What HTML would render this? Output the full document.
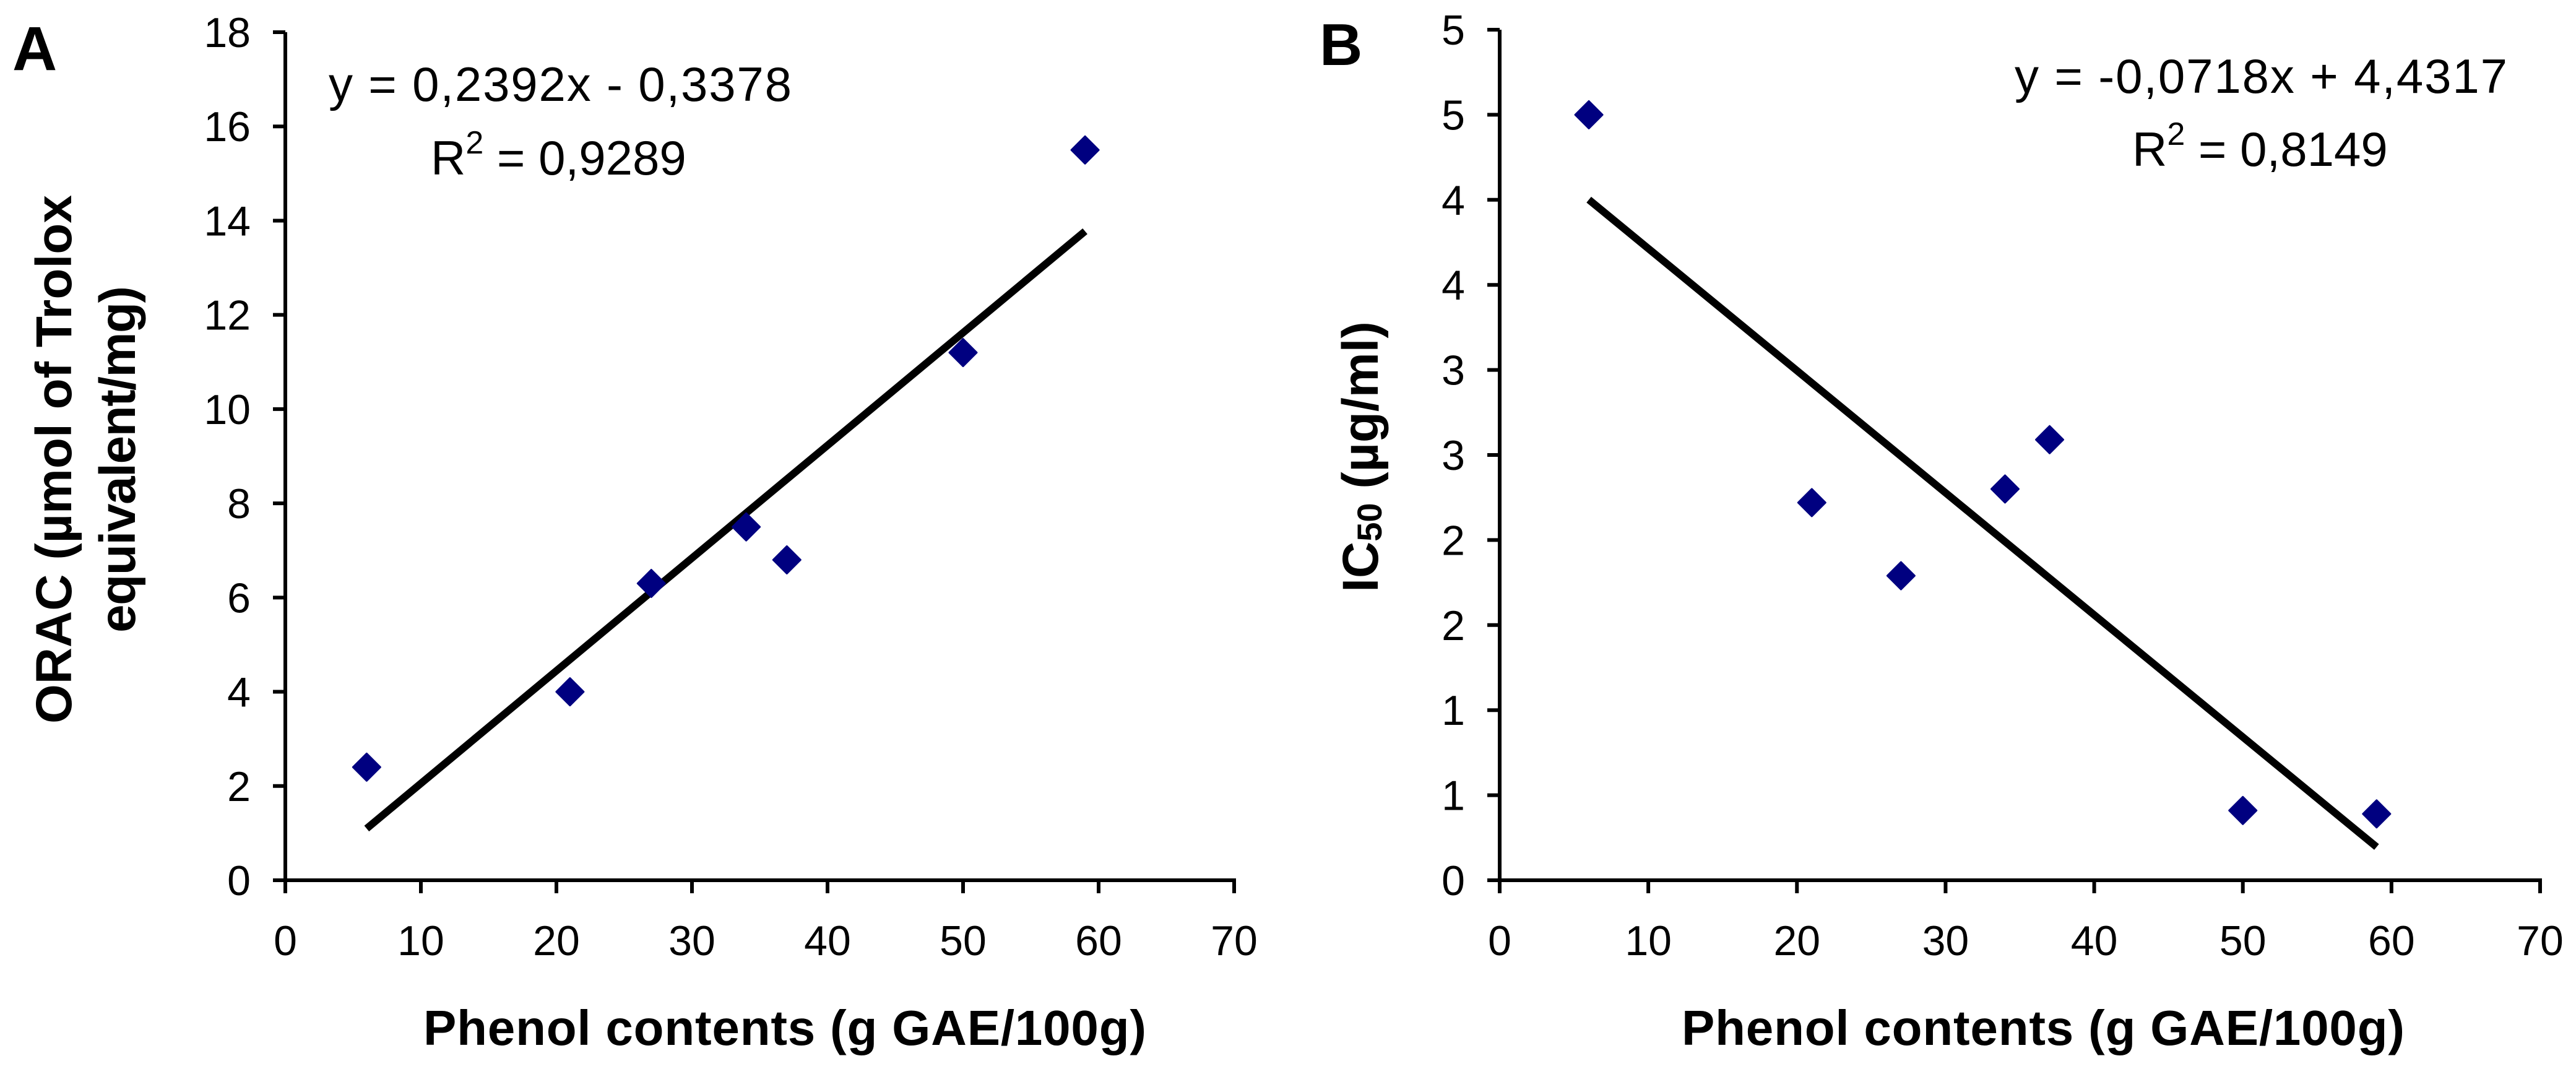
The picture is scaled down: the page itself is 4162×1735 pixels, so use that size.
<!DOCTYPE html>
<html><head><meta charset="utf-8"><style>
html,body{margin:0;padding:0;background:#fff}
svg{display:block}
text{font-family:"Liberation Sans",sans-serif;fill:#000}
</style></head><body>
<svg id="fig" width="4162" height="1735" viewBox="0 0 4162 1735" xmlns="http://www.w3.org/2000/svg"></svg>
<script>
const xA = [6, 21, 27, 34, 37, 50, 59];
const yA = [2.4, 4.0, 6.3, 7.5, 6.8, 11.2, 15.5];
const xB = [6, 21, 27, 34, 37, 50, 59];
const yB = [4.5, 2.22, 1.79, 2.3, 2.59, 0.41, 0.39];
const slopeA = 0.2392, interceptA = -0.3378;
const slopeB = -0.0718, interceptB = 4.4317;
const xTicks = [0, 10, 20, 30, 40, 50, 60, 70];
const yTicksA = [0, 2, 4, 6, 8, 10, 12, 14, 16, 18];
const yTicksB = [0, 0.5, 1, 1.5, 2, 2.5, 3, 3.5, 4, 4.5, 5];
const yTickLabelsB = ["0", "1", "1", "2", "2", "3", "3", "4", "4", "5", "5"];

const NS = "http://www.w3.org/2000/svg";
const svg = document.getElementById("fig");
function mk(tag, attrs, parent, txt) {
  const e = document.createElementNS(NS, tag);
  for (const k in attrs) e.setAttribute(k, attrs[k]);
  if (txt !== undefined) e.textContent = txt;
  (parent || svg).appendChild(e);
  return e;
}

function panel(cfg) {
  const g = mk("g", {});
  
  
  const sx = v => cfg.x0 + (v - 0) / 70 * (cfg.x1 - cfg.x0);
  const sy = v => cfg.yb - (v - 0) / cfg.ymax * (cfg.yb - cfg.yt);
  const ya = mk("line", {x1: cfg.x0, y1: cfg.yt, x2: cfg.x0, y2: cfg.yb + 3, stroke: "#000", "stroke-width": 6}, g);
  
  
  const xa = mk("line", {x1: cfg.x0 - 20, y1: cfg.yb, x2: cfg.x1 + 3, y2: cfg.yb, stroke: "#000", "stroke-width": 6}, g);
  
  
  cfg.yTicks.forEach((v, i) => {
    const y = sy(v);
    const t = mk("line", {x1: cfg.x0 - 20, y1: y, x2: cfg.x0, y2: y, stroke: "#000", "stroke-width": 6}, g);
    
    
    const l = mk("text", {x: cfg.x0 - 56, y: y + 24, "font-size": 68, "text-anchor": "end"}, g, cfg.yLabels[i]);
    
    
  });
  xTicks.forEach(v => {
    const x = sx(v);
    const t = mk("line", {x1: x, y1: cfg.yb, x2: x, y2: cfg.yb + 21, stroke: "#000", "stroke-width": 6}, g);
    
    
    const l = mk("text", {x: x, y: 1543, "font-size": 68, "text-anchor": "middle"}, g, String(v));
    
    
  });
  const xs = cfg.xs, xmin = Math.min(...xs), xmax = Math.max(...xs);
  const tl = mk("line", {x1: sx(xmin), y1: sy(cfg.slope * xmin + cfg.intercept), x2: sx(xmax), y2: sy(cfg.slope * xmax + cfg.intercept), stroke: "#000", "stroke-width": 12}, g);
  
  
  xs.forEach((xv, i) => {
    const cx = sx(xv), cy = sy(cfg.ys[i]), r = 22;
    const p = mk("polygon", {points: `${cx},${cy - r} ${cx + r},${cy} ${cx},${cy + r} ${cx - r},${cy}`, fill: "#000080", stroke: "#000080", "stroke-width": 3, "stroke-linejoin": "round"}, g);
    
    
  });
  return g;
}

panel({name: "panel-a", x0: 461, x1: 1994, yt: 52, yb: 1422, ymax: 18, yTicks: yTicksA, yLabels: yTicksA.map(String), xs: xA, ys: yA, slope: slopeA, intercept: interceptA});
panel({name: "panel-b", x0: 2423, x1: 4104, yt: 48, yb: 1422, ymax: 5, yTicks: yTicksB, yLabels: yTickLabelsB, xs: xB, ys: yB, slope: slopeB, intercept: interceptB});
</script>
<div style="position:absolute;left:0;top:0;width:4162px;height:1735px;pointer-events:none">
<svg width="4162" height="1735" xmlns="http://www.w3.org/2000/svg" style="position:absolute;left:0;top:0">
  <text x="20" y="113" font-size="100" font-weight="bold">A</text>
  <text x="2132" y="105" font-size="96" font-weight="bold">B</text>
  <text x="531" y="163" font-size="78" textLength="748">y = 0,2392x - 0,3378</text>
  <text x="696" y="282" font-size="78">R<tspan dy="-34" font-size="52">2</tspan><tspan dy="34"> = 0,9289</tspan></text>
  <text x="3255" y="150" font-size="78" textLength="796">y = -0,0718x + 4,4317</text>
  <text x="3445" y="268" font-size="78">R<tspan dy="-34" font-size="52">2</tspan><tspan dy="34"> = 0,8149</tspan></text>
  <text x="1268" y="1688" font-size="80" font-weight="bold" text-anchor="middle" textLength="1168">Phenol contents (g GAE/100g)</text>
  <text x="3301" y="1688" font-size="80" font-weight="bold" text-anchor="middle" textLength="1168">Phenol contents (g GAE/100g)</text>
  <g transform="translate(115,742) rotate(-90)">
    <text x="0" y="0" font-size="82" font-weight="bold" text-anchor="middle" textLength="854">ORAC (µmol of Trolox</text>
    <text x="0" y="103" font-size="82" font-weight="bold" text-anchor="middle" textLength="560">equivalent/mg)</text>
  </g>
  <g transform="translate(2226,738) rotate(-90)">
    <text x="0" y="0" font-size="82" font-weight="bold" text-anchor="middle">IC<tspan font-size="56" dy="6">50</tspan><tspan dy="-6"> (µg/ml)</tspan></text>
  </g>
</svg>
</div>
</body></html>
